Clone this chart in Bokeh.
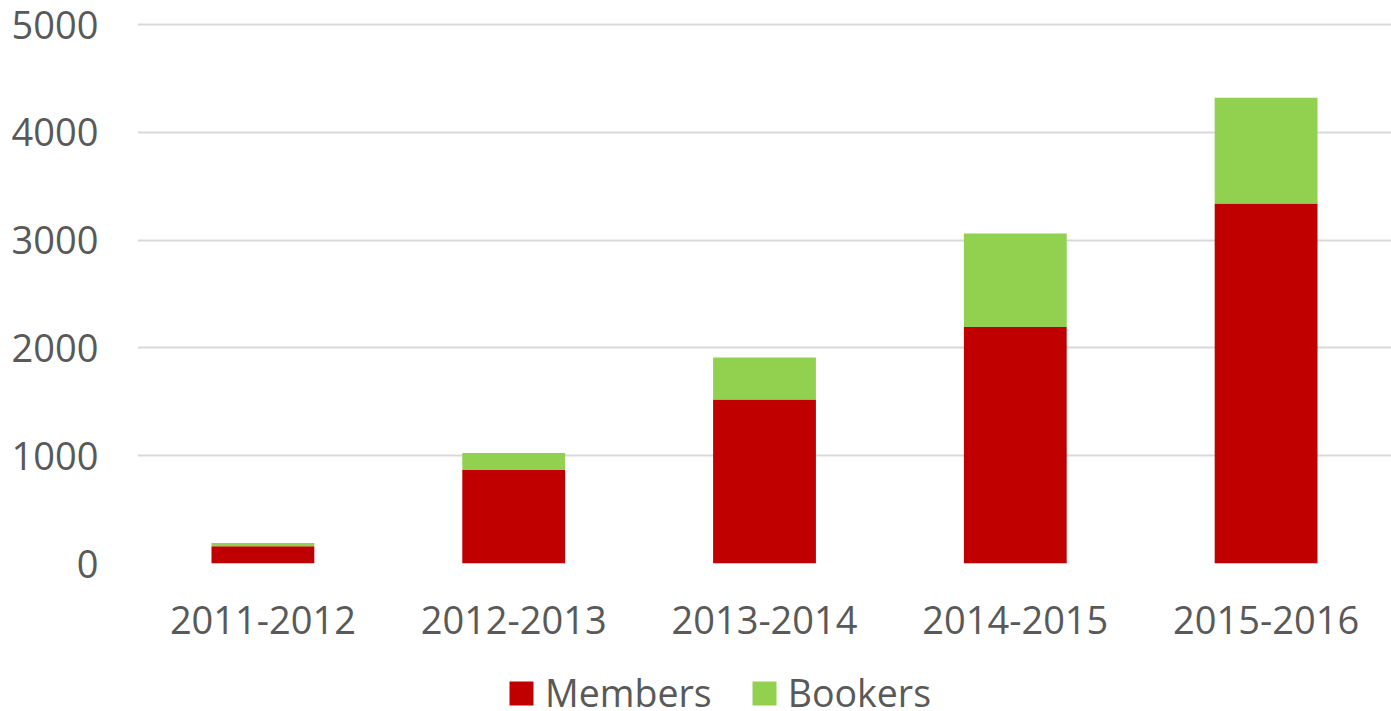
from bokeh.plotting import figure
from bokeh.layouts import column
from bokeh.models import Legend, LegendItem, Range1d, FixedTicker
from bokeh.embed import file_html
from bokeh.resources import INLINE

years = ["2011-2012", "2012-2013", "2013-2014", "2014-2015", "2015-2016"]
members = [160, 867, 1521, 2195, 3340]
bookers = [30, 158, 390, 866, 981]
y_ticks = [0, 1000, 2000, 3000, 4000, 5000]

FONT = "Open Sans"
TXT = "#595959"
COLORS = ["#C00000", "#92D050"]

src = dict(years=years, Members=members, Bookers=bookers)

p = figure(x_range=years, y_range=Range1d(0, 5020), frame_width=1254, frame_height=541,
           output_backend="svg", toolbar_location=None,
           min_border_left=137, min_border_right=0, min_border_top=22, min_border_bottom=90)
p.vbar_stack(["Members", "Bookers"], x="years", width=0.41, source=src,
             color=COLORS, line_color=None)

p.outline_line_color = None
p.xgrid.grid_line_color = None
p.ygrid.grid_line_color = "#d9d9d9"
p.ygrid.grid_line_width = 2
p.yaxis.ticker = FixedTicker(ticks=y_ticks)

for ax in (p.xaxis[0], p.yaxis[0]):
    ax.axis_line_color = None
    ax.major_tick_line_color = None
    ax.minor_tick_line_color = None
    ax.major_tick_out = 0
    ax.major_label_text_font = FONT
    ax.major_label_text_font_size = "38px"
    ax.major_label_text_color = TXT
p.yaxis.major_label_standoff = 39
p.xaxis.major_label_standoff = 42

# legend strip (same series, drawn outside its visible range so only the legend shows)
pl = figure(x_range=years, y_range=Range1d(100000, 200000), width=1391, height=80,
            output_backend="svg", toolbar_location=None,
            x_axis_location=None, y_axis_location=None,
            min_border_left=0, min_border_right=0, min_border_top=0, min_border_bottom=0)
pl.outline_line_color = None
pl.grid.visible = False
rs = pl.vbar_stack(["Members", "Bookers"], x="years", width=0.41, source=src,
                   color=COLORS, line_color=None)

legend = Legend(items=[LegendItem(label="Members", renderers=[rs[0]]),
                       LegendItem(label="Bookers", renderers=[rs[1]])],
                orientation="horizontal", location=(369, 15),
                label_text_font=FONT, label_text_font_size="37.5px", label_text_color=TXT,
                glyph_width=30, glyph_height=30, label_standoff=9, spacing=37,
                border_line_color=None, background_fill_alpha=0, margin=0, padding=0)
pl.add_layout(legend, "center")

open("out.html", "w").write(file_html(column(p, pl, spacing=0), INLINE))
